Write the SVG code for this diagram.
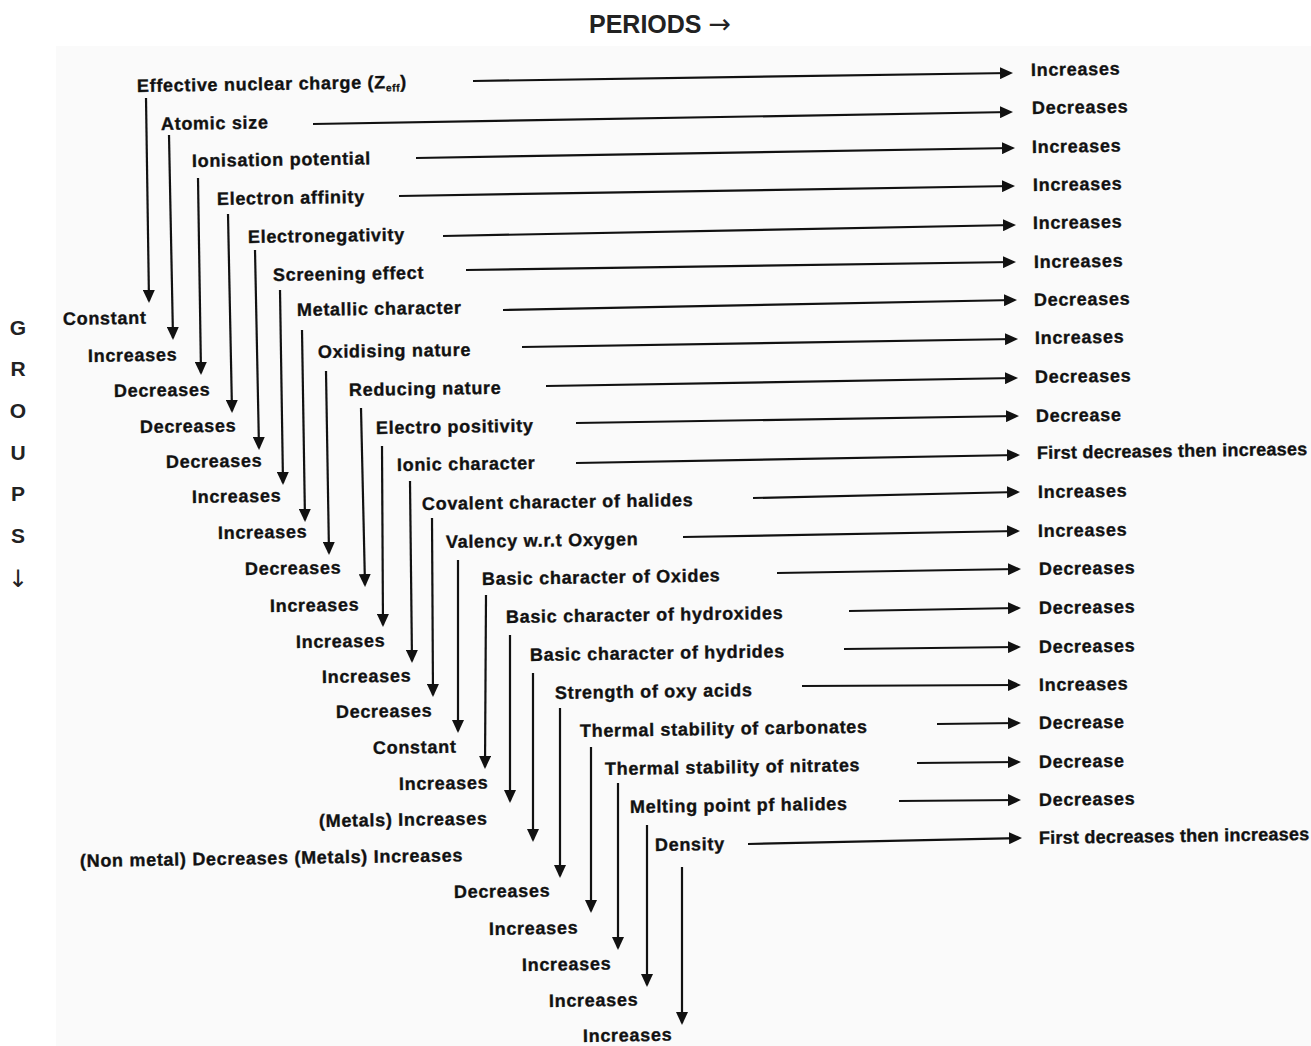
<svg xmlns="http://www.w3.org/2000/svg" width="1311" height="1046" viewBox="0 0 1311 1046">
<style>
.t{font-family:"Liberation Sans",Arial,sans-serif;font-weight:bold;font-size:18px;letter-spacing:0.7px;fill:#111;stroke:#111;stroke-width:0.35}
.f{letter-spacing:0.25px}
.h{font-family:"Liberation Sans",Arial,sans-serif;font-weight:bold;fill:#222}
.ar{font-family:"DejaVu Sans",sans-serif;font-weight:normal;fill:#222}
.c line{stroke:#111;stroke-width:2.2;marker-end:url(#ah)}
</style>
<defs>
<marker id="ah" markerUnits="userSpaceOnUse" markerWidth="13" markerHeight="12" refX="11" refY="6" orient="auto"><path d="M0,0 L13,6 L0,12 z" fill="#111"/></marker>
</defs>
<rect width="1311" height="1046" fill="#fff"/>
<rect x="56" y="46" width="1255" height="1000" fill="#fafafa"/>
<g id="title"><text class="h" x="589" y="33" font-size="25">PERIODS <tspan class="ar" font-size="27">→</tspan></text></g>
<g id="groups-label" class="h" font-size="21" text-anchor="middle">
<text x="18" y="335">G</text><text x="18" y="376">R</text><text x="18" y="418">O</text><text x="18" y="460">U</text><text x="18" y="501">P</text><text x="18" y="543">S</text><text class="ar" x="18" y="587" font-size="24">↓</text>
</g>
<g id="connectors" class="c">
<line x1="473" y1="81" x2="1011" y2="73"/>
<line x1="313" y1="124" x2="1011" y2="112"/>
<line x1="416" y1="158" x2="1013" y2="148"/>
<line x1="399" y1="196" x2="1013" y2="186"/>
<line x1="443" y1="236" x2="1014" y2="225"/>
<line x1="466" y1="270" x2="1014" y2="262"/>
<line x1="503" y1="310" x2="1015" y2="300"/>
<line x1="522" y1="347" x2="1016" y2="339"/>
<line x1="546" y1="386" x2="1016" y2="378"/>
<line x1="576" y1="423" x2="1017" y2="416"/>
<line x1="576" y1="463" x2="1018" y2="455"/>
<line x1="753" y1="498" x2="1018" y2="492"/>
<line x1="683" y1="537" x2="1018" y2="531"/>
<line x1="777" y1="573" x2="1019" y2="569"/>
<line x1="849" y1="611" x2="1019" y2="608"/>
<line x1="844" y1="649" x2="1019" y2="647"/>
<line x1="802" y1="686" x2="1019" y2="685"/>
<line x1="937" y1="724" x2="1019" y2="723"/>
<line x1="917" y1="763" x2="1019" y2="762"/>
<line x1="899" y1="801" x2="1019" y2="800"/>
<line x1="748" y1="844" x2="1020" y2="838"/>
<line x1="146" y1="98" x2="149" y2="301"/>
<line x1="169" y1="135" x2="173" y2="338"/>
<line x1="198" y1="178" x2="201" y2="373"/>
<line x1="228" y1="214" x2="232" y2="411"/>
<line x1="255" y1="250" x2="259" y2="448"/>
<line x1="280" y1="290" x2="283" y2="483"/>
<line x1="302" y1="330" x2="305" y2="520"/>
<line x1="326" y1="371" x2="329" y2="553"/>
<line x1="361" y1="408" x2="365" y2="585"/>
<line x1="382" y1="446" x2="383" y2="625"/>
<line x1="410" y1="481" x2="412" y2="661"/>
<line x1="432" y1="518" x2="433" y2="695"/>
<line x1="458" y1="560" x2="458" y2="731"/>
<line x1="486" y1="595" x2="485" y2="767"/>
<line x1="510" y1="635" x2="510" y2="801"/>
<line x1="533" y1="673" x2="533" y2="840"/>
<line x1="560" y1="708" x2="560" y2="876"/>
<line x1="591" y1="747" x2="591" y2="911"/>
<line x1="618" y1="783" x2="618" y2="948"/>
<line x1="647" y1="825" x2="647" y2="985"/>
<line x1="682" y1="867" x2="682" y2="1023"/>
</g>
<g id="n1"><text class="t" x="137" y="92" transform="rotate(-0.85 137 92)">Effective nuclear charge (Z<tspan font-size="10" dy="3">eff</tspan><tspan dy="-3">)</tspan></text><text class="t" x="63" y="325" transform="rotate(-0.85 63 325)">Constant</text><text class="t" x="1031" y="76" transform="rotate(-0.85 1031 76)">Increases</text></g>
<g id="n2"><text class="t" x="161" y="130" transform="rotate(-0.85 161 130)">Atomic size</text><text class="t" x="88" y="362" transform="rotate(-0.85 88 362)">Increases</text><text class="t" x="1032" y="114" transform="rotate(-0.85 1032 114)">Decreases</text></g>
<g id="n3"><text class="t" x="192" y="167" transform="rotate(-0.85 192 167)">Ionisation potential</text><text class="t" x="114" y="397" transform="rotate(-0.85 114 397)">Decreases</text><text class="t" x="1032" y="153" transform="rotate(-0.85 1032 153)">Increases</text></g>
<g id="n4"><text class="t" x="217" y="205" transform="rotate(-0.85 217 205)">Electron affinity</text><text class="t" x="140" y="433" transform="rotate(-0.85 140 433)">Decreases</text><text class="t" x="1033" y="191" transform="rotate(-0.85 1033 191)">Increases</text></g>
<g id="n5"><text class="t" x="248" y="243" transform="rotate(-0.85 248 243)">Electronegativity</text><text class="t" x="166" y="468" transform="rotate(-0.85 166 468)">Decreases</text><text class="t" x="1033" y="229" transform="rotate(-0.85 1033 229)">Increases</text></g>
<g id="n6"><text class="t" x="273" y="281" transform="rotate(-0.85 273 281)">Screening effect</text><text class="t" x="192" y="503" transform="rotate(-0.85 192 503)">Increases</text><text class="t" x="1034" y="268" transform="rotate(-0.85 1034 268)">Increases</text></g>
<g id="n7"><text class="t" x="297" y="316" transform="rotate(-0.85 297 316)">Metallic character</text><text class="t" x="218" y="539" transform="rotate(-0.85 218 539)">Increases</text><text class="t" x="1034" y="306" transform="rotate(-0.85 1034 306)">Decreases</text></g>
<g id="n8"><text class="t" x="318" y="358" transform="rotate(-0.85 318 358)">Oxidising nature</text><text class="t" x="245" y="575" transform="rotate(-0.85 245 575)">Decreases</text><text class="t" x="1035" y="344" transform="rotate(-0.85 1035 344)">Increases</text></g>
<g id="n9"><text class="t" x="349" y="396" transform="rotate(-0.85 349 396)">Reducing nature</text><text class="t" x="270" y="612" transform="rotate(-0.85 270 612)">Increases</text><text class="t" x="1035" y="383" transform="rotate(-0.85 1035 383)">Decreases</text></g>
<g id="n10"><text class="t" x="376" y="434" transform="rotate(-0.85 376 434)">Electro positivity</text><text class="t" x="296" y="648" transform="rotate(-0.85 296 648)">Increases</text><text class="t" x="1036" y="422" transform="rotate(-0.85 1036 422)">Decrease</text></g>
<g id="n11"><text class="t" x="397" y="471" transform="rotate(-0.85 397 471)">Ionic character</text><text class="t" x="322" y="683" transform="rotate(-0.85 322 683)">Increases</text><text class="t f" x="1037" y="459" transform="rotate(-0.85 1037 459)">First decreases then increases</text></g>
<g id="n12"><text class="t" x="422" y="510" transform="rotate(-0.85 422 510)">Covalent character of halides</text><text class="t" x="336" y="718" transform="rotate(-0.85 336 718)">Decreases</text><text class="t" x="1038" y="498" transform="rotate(-0.85 1038 498)">Increases</text></g>
<g id="n13"><text class="t" x="446" y="548" transform="rotate(-0.85 446 548)">Valency w.r.t Oxygen</text><text class="t" x="373" y="754" transform="rotate(-0.85 373 754)">Constant</text><text class="t" x="1038" y="537" transform="rotate(-0.85 1038 537)">Increases</text></g>
<g id="n14"><text class="t" x="482" y="585" transform="rotate(-0.85 482 585)">Basic character of Oxides</text><text class="t" x="399" y="790" transform="rotate(-0.85 399 790)">Increases</text><text class="t" x="1039" y="575" transform="rotate(-0.85 1039 575)">Decreases</text></g>
<g id="n15"><text class="t" x="506" y="623" transform="rotate(-0.85 506 623)">Basic character of hydroxides</text><text class="t" x="319" y="827" transform="rotate(-0.85 319 827)">(Metals) Increases</text><text class="t" x="1039" y="614" transform="rotate(-0.85 1039 614)">Decreases</text></g>
<g id="n16"><text class="t" x="530" y="661" transform="rotate(-0.85 530 661)">Basic character of hydrides</text><text class="t" x="80" y="867" transform="rotate(-0.85 80 867)">(Non metal) Decreases (Metals) Increases</text><text class="t" x="1039" y="653" transform="rotate(-0.85 1039 653)">Decreases</text></g>
<g id="n17"><text class="t" x="555" y="699" transform="rotate(-0.85 555 699)">Strength of oxy acids</text><text class="t" x="454" y="898" transform="rotate(-0.85 454 898)">Decreases</text><text class="t" x="1039" y="691" transform="rotate(-0.85 1039 691)">Increases</text></g>
<g id="n18"><text class="t" x="580" y="737" transform="rotate(-0.85 580 737)">Thermal stability of carbonates</text><text class="t" x="489" y="935" transform="rotate(-0.85 489 935)">Increases</text><text class="t" x="1039" y="729" transform="rotate(-0.85 1039 729)">Decrease</text></g>
<g id="n19"><text class="t" x="605" y="775" transform="rotate(-0.85 605 775)">Thermal stability of nitrates</text><text class="t" x="522" y="971" transform="rotate(-0.85 522 971)">Increases</text><text class="t" x="1039" y="768" transform="rotate(-0.85 1039 768)">Decrease</text></g>
<g id="n20"><text class="t" x="630" y="813" transform="rotate(-0.85 630 813)">Melting point pf halides</text><text class="t" x="549" y="1007" transform="rotate(-0.85 549 1007)">Increases</text><text class="t" x="1039" y="806" transform="rotate(-0.85 1039 806)">Decreases</text></g>
<g id="n21"><text class="t" x="655" y="851" transform="rotate(-0.85 655 851)">Density</text><text class="t" x="583" y="1042" transform="rotate(-0.85 583 1042)">Increases</text><text class="t f" x="1039" y="844" transform="rotate(-0.85 1039 844)">First decreases then increases</text></g>
</svg>
